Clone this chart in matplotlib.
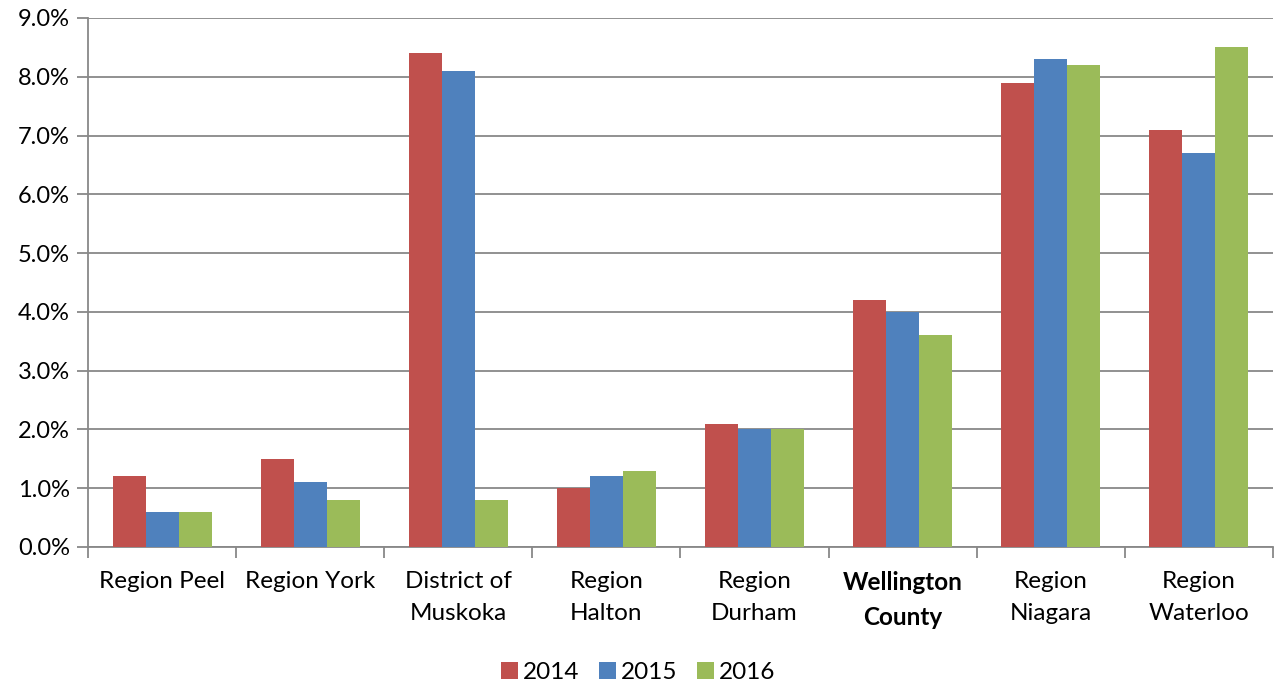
import numpy as np
import matplotlib.pyplot as plt

plt.rcParams['font.family'] = ['Lato', 'DejaVu Sans']

regiones = ['Region Peel', 'Region York', 'District of\nMuskoka', 'Region\nHalton',
            'Region\nDurham', 'Wellington\nCounty', 'Region\nNiagara', 'Region\nWaterloo']
anios = ['2014', '2015', '2016']
v2014 = [1.2, 1.5, 8.4, 1.0, 2.1, 4.2, 7.9, 7.1]
v2015 = [0.6, 1.1, 8.1, 1.2, 2.0, 4.0, 8.3, 6.7]
v2016 = [0.6, 0.8, 0.8, 1.3, 2.0, 3.6, 8.2, 8.5]
colores = ['#C0504D', '#4F81BD', '#9BBB59']

fig = plt.figure(figsize=(12.76, 6.84), dpi=100)
ax = fig.add_axes([0.069, 0.2003, 0.9286, 0.7734])

x = np.arange(len(regiones))
ancho = 0.223
for i, (serie, c, nombre) in enumerate(zip([v2014, v2015, v2016], colores, anios)):
    ax.bar(x + (i - 1) * ancho, serie, ancho, color=c, label=nombre, zorder=3)

ax.set_xlim(-0.5, len(regiones) - 0.5)
ax.set_ylim(0, 9)
ax.set_yticks(np.arange(0, 9.1, 1))
ax.set_yticklabels(['{:.1f}%'.format(v) for v in np.arange(0, 9.1, 1)], fontsize=17)
ax.yaxis.grid(True, color='#888888', linewidth=1.3, zorder=0)

# etiquetas centradas, ticks entre categorias
ax.set_xticks(x)
ax.set_xticklabels(regiones, fontsize=17.5, linespacing=1.65)
ax.tick_params(axis='x', which='major', length=0, pad=17)
ax.set_xticks(np.arange(-0.5, len(regiones)), minor=True)
ax.tick_params(axis='x', which='minor', length=8, width=1.3, color='#888888')
ax.tick_params(axis='y', length=8, width=1.3, color='#888888', pad=5)
for lab in ax.get_xticklabels():
    if lab.get_text().startswith('Wellington'):
        lab.set_fontweight('bold')

for lado in ['top', 'right']:
    ax.spines[lado].set_visible(False)
for lado in ['left', 'bottom']:
    ax.spines[lado].set_color('#888888')
    ax.spines[lado].set_linewidth(1.3)

fig.legend(loc='lower center', bbox_to_anchor=(0.5, -0.03), ncol=3, frameon=False,
           fontsize=17.5, handlelength=0.7, handleheight=0.7, handletextpad=0.2,
           columnspacing=0.8)

plt.savefig('out.png')
plt.close()
